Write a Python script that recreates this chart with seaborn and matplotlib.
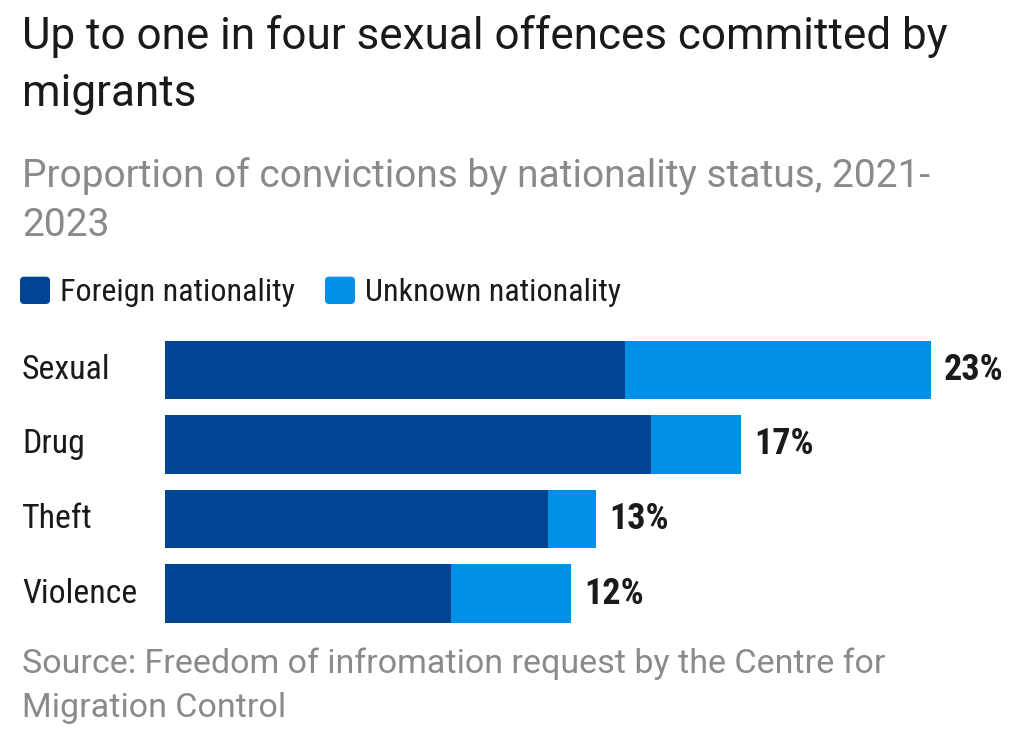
import matplotlib
matplotlib.use("Agg")
import matplotlib.pyplot as plt
import seaborn as sns
import pandas as pd
from matplotlib.patches import Patch, FancyBboxPatch
from matplotlib.legend_handler import HandlerPatch

# Data (percent of convictions)
categories = ["Sexual", "Drug", "Theft", "Violence"]
foreign = [13.8, 14.6, 11.5, 8.6]
unknown = [9.2, 2.7, 1.45, 3.6]
series_names = ["Foreign nationality", "Unknown nationality"]

DARK = "#004494"
LIGHT = "#0090E8"
GREY = "#8a8a8a"
INK = "#1a1a1a"

sns.set_theme(style="white")
plt.rcParams["font.family"] = ["Roboto", "DejaVu Sans"]
narrow = ["Roboto Condensed", "Liberation Sans Narrow", "DejaVu Sans"]


class RoundHandler(HandlerPatch):
    """Rounded square legend keys."""
    def create_artists(self, legend, orig_handle, xdescent, ydescent,
                       width, height, fontsize, trans):
        p = FancyBboxPatch((-xdescent, -ydescent), width, height,
                           boxstyle="round,pad=0,rounding_size=3",
                           facecolor=orig_handle.get_facecolor(),
                           edgecolor="none", transform=trans)
        return [p]


df = pd.DataFrame({"category": categories, "foreign": foreign, "unknown": unknown})
df["total"] = df["foreign"] + df["unknown"]

fig = plt.figure(figsize=(10.24, 7.47), dpi=100)
ax = fig.add_axes([165 / 1024, 0.1556, 832.5 / 1024, 0.399])

# stacked: draw total in light, foreign on top in dark
sns.barplot(data=df, y="category", x="total", color=LIGHT, width=0.79,
            saturation=1, ax=ax, orient="h", linewidth=0)
sns.barplot(data=df, y="category", x="foreign", color=DARK, width=0.79,
            saturation=1, ax=ax, orient="h", linewidth=0)

ax.set_xlim(0, 25)
ax.set_ylim(3.5, -0.5)
ax.set_xlabel("")
ax.set_ylabel("")
ax.set_xticks([])
for s in ax.spines.values():
    s.set_visible(False)
ax.tick_params(axis="y", length=0, pad=0)
ax.set_yticklabels([])

for i, row in df.iterrows():
    ax.text(-143 / 33.3, i, row["category"], ha="left", va="center",
            fontsize=24.3, color=INK, family=narrow)
    ax.text(row["total"] + 0.4, i, f"{round(row['total']):.0f}%", ha="left",
            va="center", fontsize=26, fontweight="bold", color=INK,
            family=narrow)

handles = [Patch(facecolor=DARK), Patch(facecolor=LIGHT)]
leg = fig.legend(handles, series_names, loc="center left",
                 bbox_to_anchor=(20 / 1024, 1 - 292 / 747), ncol=2, frameon=False,
                 borderpad=0, borderaxespad=0,
                 handlelength=0.94, handleheight=0.94, handletextpad=0.3,
                 columnspacing=0.95,
                 handler_map={Patch: RoundHandler()},
                 prop={"family": narrow, "size": 23})
for t in leg.get_texts():
    t.set_color(INK)

fig.text(22 / 1024, 1 - 15 / 747, "Up to one in four sexual offences committed by\nmigrants",
         ha="left", va="top", fontsize=31.7, color=INK, linespacing=1.45)
fig.text(22 / 1024, 1 - 157 / 747, "Proportion of convictions by nationality status, 2021-\n2023",
         ha="left", va="top", fontsize=28, color=GREY, linespacing=1.42)
fig.text(22 / 1024, 1 - 648 / 747, "Source: Freedom of infromation request by the Centre for\nMigration Control",
         ha="left", va="top", fontsize=24.5, color=GREY, linespacing=1.46)

fig.savefig("out.png", dpi=100, facecolor="white")
